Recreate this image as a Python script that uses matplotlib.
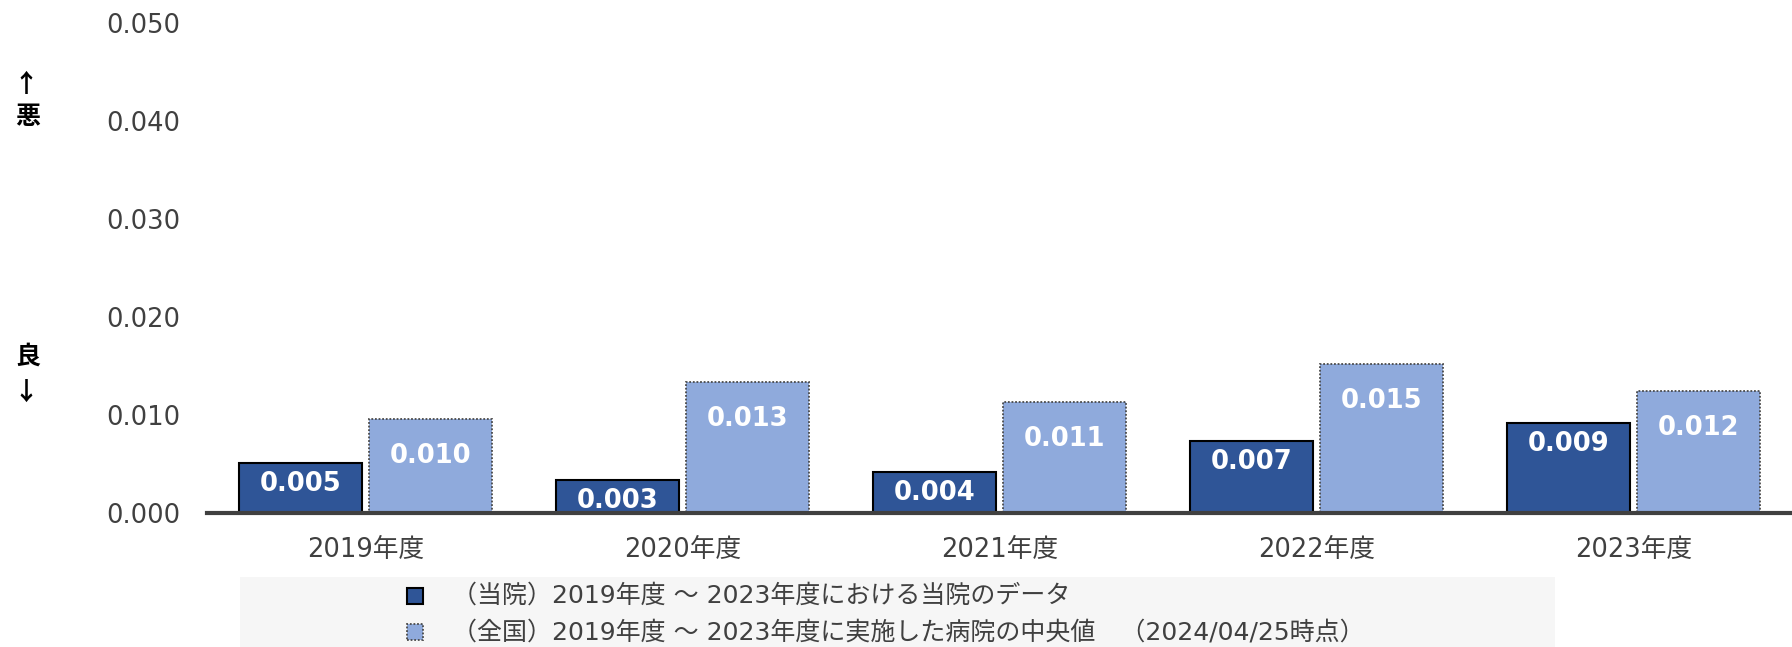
import matplotlib
matplotlib.use("Agg")
import matplotlib.pyplot as plt
from matplotlib.patches import Rectangle
import numpy as np

plt.rcParams['font.family'] = ['DejaVu Sans', 'Noto Sans CJK JP']

categories = ['2019年度', '2020年度', '2021年度', '2022年度', '2023年度']
hospital = [0.0051, 0.0034, 0.0042, 0.0073, 0.0092]
national = [0.0096, 0.0134, 0.0113, 0.0152, 0.0124]
series_names = ['（当院）2019年度 ～ 2023年度における当院のデータ',
                '（全国）2019年度 ～ 2023年度に実施した病院の中央値　（2024/04/25時点）']
yticks = [0.0, 0.01, 0.02, 0.03, 0.04, 0.05]

W, H = 1792, 647
fig = plt.figure(figsize=(W / 100, H / 100), dpi=100)
ax = fig.add_axes([207 / W, 1 - 513 / H, 1 - 207 / W, (513 - 23) / H])

x = np.arange(len(categories))
bw = 0.39
off = 0.205
dark = '#2F5597'
light = '#8FAADC'
dark_style = dict(facecolor=dark, edgecolor='black', linewidth=1.5)
light_style = dict(facecolor=light, edgecolor='#4A4A4A', linewidth=1.3, linestyle=(0, (1, 1)))
b1 = ax.bar(x - off, hospital, bw, label=series_names[0], zorder=2, **dark_style)
b2 = ax.bar(x + off, national, bw, label=series_names[1], zorder=2, **light_style)

for rect, v in zip(b1, hospital):
    ax.annotate(f'{v:.3f}', (rect.get_x() + rect.get_width() / 2, v),
                xytext=(0, -21), textcoords='offset pixels', ha='center', va='center',
                color='white', fontweight='bold', fontsize=18.5)
for rect, v in zip(b2, national):
    ax.annotate(f'{v:.3f}', (rect.get_x() + rect.get_width() / 2, v),
                xytext=(0, -37), textcoords='offset pixels', ha='center', va='center',
                color='white', fontweight='bold', fontsize=18.5)

ax.set_xlim(-0.5, len(categories) - 0.5)
ax.set_ylim(0, 0.05)
ax.set_yticks(yticks)
ax.set_yticklabels([f'{t:.3f}' for t in yticks])
ax.set_xticks(x)
ax.set_xticklabels(categories)
ax.tick_params(axis='y', length=0, pad=19, labelsize=18.5, labelcolor='#404040')
ax.tick_params(axis='x', length=0, pad=17, labelsize=18.5, labelcolor='#404040')
for s in ['top', 'right', 'left']:
    ax.spines[s].set_visible(False)
ax.spines['bottom'].set_color('#404040')
ax.spines['bottom'].set_linewidth(3)
ax.spines['bottom'].set_zorder(3)

# left-side indicators
side = dict(ha='center', va='center', fontsize=18, fontweight='bold', color='black',
            family=['Noto Sans CJK JP', 'DejaVu Sans'])
fig.text(26 / W, 1 - 85 / H, '↑', **side)
fig.text(28 / W, 1 - 117 / H, '悪', **side)
fig.text(28 / W, 1 - 357 / H, '良', **side)
fig.text(26 / W, 1 - 393 / H, '↓', **side)

# legend
fig.add_artist(Rectangle((240 / W, 0), (1555 - 240) / W, 70 / H, transform=fig.transFigure,
                         facecolor='#F6F6F6', edgecolor='none', zorder=0))
for i, (name, st) in enumerate(zip(series_names, [dark_style, light_style])):
    cy = [596, 632][i]
    fig.add_artist(Rectangle((407 / W, 1 - (cy + 8) / H), 16 / W, 16 / H,
                             transform=fig.transFigure, **st))
    fig.text(452 / W, 1 - cy / H, name, ha='left', va='center', fontsize=18, color='#404040')

fig.savefig('out.png', dpi=100)
